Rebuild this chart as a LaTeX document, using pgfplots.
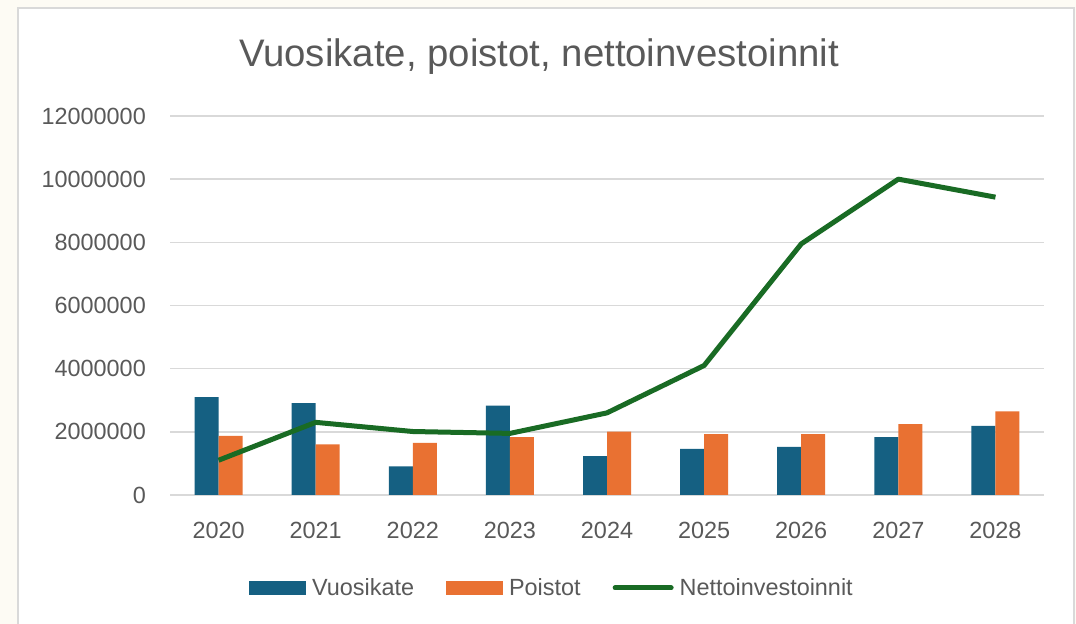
\documentclass[border=0pt]{standalone}
\usepackage{pgfplots}
\pgfplotsset{compat=1.18}
\usepackage{fontspec}
\setmainfont{Liberation Sans}
\definecolor{vuo}{HTML}{156082}
\definecolor{poi}{HTML}{E97132}
\definecolor{net}{HTML}{196B24}
\definecolor{txt}{HTML}{595959}
\definecolor{grd}{HTML}{D9D9D9}
\definecolor{bg}{HTML}{FDFBF4}
\begin{document}
\begin{tikzpicture}[x=1bp,y=1bp]
\path[use as bounding box] (0,0) rectangle (1076,624);
\fill[bg] (0,0) rectangle (1076,624);
\filldraw[fill=white, draw=grd, line width=2bp] (18,-10) rectangle (1074,616);
\node[font=\fontsize{38.5}{46}\selectfont, text=txt] at (539,567) {Vuosikate, poistot, nettoinvestoinnit};
\begin{axis}[
  at={(170bp,129bp)}, anchor=south west, scale only axis,
  width=874bp, height=379bp,
  xmin=-0.5, xmax=8.5, ymin=0, ymax=12000000,
  xtick={0,...,8},
  xticklabels={2020,2021,2022,2023,2024,2025,2026,2027,2028},
  ytick={0,2000000,4000000,6000000,8000000,10000000,12000000},
  ymajorgrids, grid style={grd, line width=1.5bp},
  axis line style={draw=none}, major tick length=0pt,
  tick label style={font=\fontsize{23.5}{28}\selectfont, text=txt},
  /pgf/number format/.cd, fixed, 1000 sep={}, assume math mode=true,
  /pgfplots/.cd,
  scaled y ticks=false,
  yticklabel style={anchor=east, inner sep=0pt, xshift=-24bp},
  xticklabel style={anchor=center, inner sep=0pt, yshift=-35bp},
  clip=false,
  legend style={at={(0.437,-0.245)}, anchor=center, draw=none, fill=none,
    font=\fontsize{23.5}{28}\selectfont, text=txt,
    /tikz/every even column/.append style={column sep=30bp},
    /tikz/every odd column/.append style={column sep=4bp},
    nodes={inner sep=2bp}},
  legend columns=3,
]
\addplot[ybar, bar width=24bp, bar shift=-12bp, fill=vuo, draw=none,
  legend image code/.code={\fill[vuo] (0bp,-7bp) rectangle (57bp,7bp);}]
  coordinates {(0,3100000) (1,2910000) (2,910000) (3,2830000) (4,1230000) (5,1460000) (6,1520000) (7,1830000) (8,2190000)};
\addlegendentry{Vuosikate}
\addplot[ybar, bar width=24bp, bar shift=12bp, fill=poi, draw=none,
  legend image code/.code={\fill[poi] (0bp,-7bp) rectangle (57bp,7bp);}]
  coordinates {(0,1870000) (1,1600000) (2,1650000) (3,1830000) (4,2010000) (5,1930000) (6,1930000) (7,2240000) (8,2650000)};
\addlegendentry{Poistot}
\addplot[sharp plot, net, line width=5bp, line join=round, mark=none,
  legend image code/.code={\draw[net, line width=5bp, line cap=round] (2bp,0bp) -- (58bp,0bp);}]
  coordinates {(0,1100000) (1,2300000) (2,2010000) (3,1950000) (4,2600000) (5,4100000) (6,7950000) (7,10000000) (8,9430000)};
\addlegendentry{Nettoinvestoinnit}
\end{axis}
\end{tikzpicture}
\end{document}
